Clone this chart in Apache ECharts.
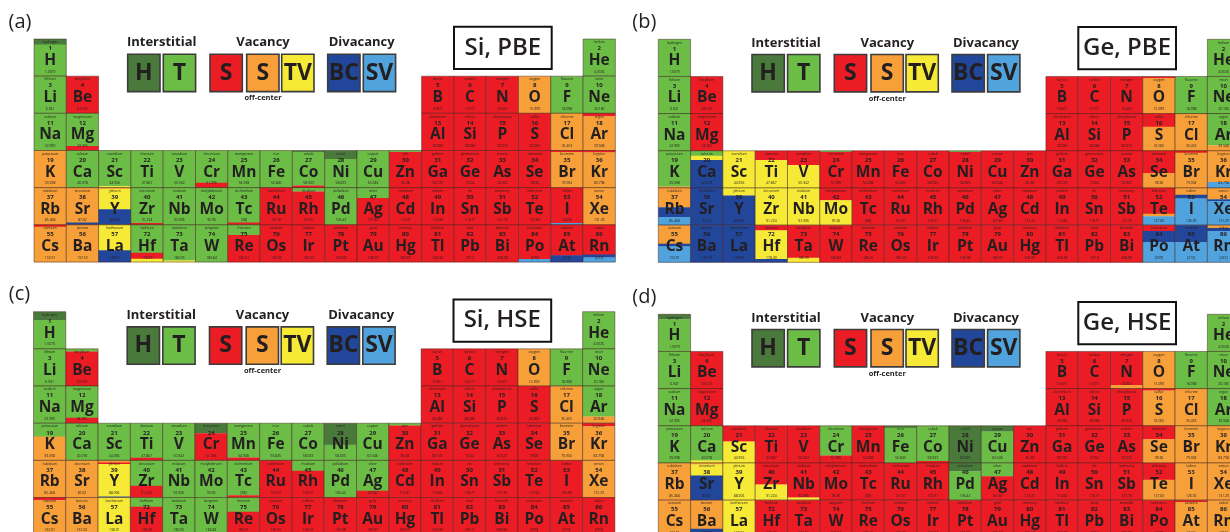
<!DOCTYPE html>
<html>
<head>
<meta charset="utf-8">
<script src="https://cdn.jsdelivr.net/npm/echarts@6/dist/echarts.min.js"></script>
<style>
  html, body { margin: 0; padding: 0; background: #ffffff; }
  #chart { width: 1230px; height: 532px; }
</style>
</head>
<body>
<div id="chart"></div>
<script>
// ---- Periodic table data (periods 1-6, lanthanum placed in group 3) ----
const elementSymbols = [
  'H','He',
  'Li','Be','B','C','N','O','F','Ne',
  'Na','Mg','Al','Si','P','S','Cl','Ar',
  'K','Ca','Sc','Ti','V','Cr','Mn','Fe','Co','Ni','Cu','Zn','Ga','Ge','As','Se','Br','Kr',
  'Rb','Sr','Y','Zr','Nb','Mo','Tc','Ru','Rh','Pd','Ag','Cd','In','Sn','Sb','Te','I','Xe',
  'Cs','Ba','La','Hf','Ta','W','Re','Os','Ir','Pt','Au','Hg','Tl','Pb','Bi','Po','At','Rn'
];
const elementNames = [
  'hydrogen','helium',
  'lithium','beryllium','boron','carbon','nitrogen','oxygen','fluorine','neon',
  'sodium','magnesium','aluminium','silicon','phosphorus','sulfur','chlorine','argon',
  'potassium','calcium','scandium','titanium','vanadium','chromium','manganese','iron','cobalt','nickel','copper','zinc','gallium','germanium','arsenic','selenium','bromine','krypton',
  'rubidium','strontium','yttrium','zirconium','niobium','molybdenum','technetium','ruthenium','rhodium','palladium','silver','cadmium','indium','tin','antimony','tellurium','iodine','xenon',
  'caesium','barium','lanthanum','hafnium','tantalum','tungsten','rhenium','osmium','iridium','platinum','gold','mercury','thallium','lead','bismuth','polonium','astatine','radon'
];
const atomicNumbers = [
  1,2,
  3,4,5,6,7,8,9,10,
  11,12,13,14,15,16,17,18,
  19,20,21,22,23,24,25,26,27,28,29,30,31,32,33,34,35,36,
  37,38,39,40,41,42,43,44,45,46,47,48,49,50,51,52,53,54,
  55,56,57,72,73,74,75,76,77,78,79,80,81,82,83,84,85,86
];
const atomicMasses = [
  '1.0079','4.0026',
  '6.941','9.0122','10.811','12.011','14.007','15.999','18.998','20.180',
  '22.990','24.305','26.982','28.086','30.974','32.065','35.453','39.948',
  '39.098','40.078','44.956','47.867','50.942','51.996','54.938','55.845','58.933','58.693','63.546','65.38','69.723','72.64','74.922','78.96','79.904','83.798',
  '85.468','87.62','88.906','91.224','92.906','95.96','[98]','101.07','102.91','106.42','107.87','112.41','114.82','118.71','121.76','127.60','126.90','131.29',
  '132.91','137.33','138.91','178.49','180.95','183.84','186.21','190.23','192.22','195.08','196.97','200.59','204.38','207.2','208.98','[209]','[210]','[222]'
];
const groupOf = [
  1,18,
  1,2,13,14,15,16,17,18,
  1,2,13,14,15,16,17,18,
  1,2,3,4,5,6,7,8,9,10,11,12,13,14,15,16,17,18,
  1,2,3,4,5,6,7,8,9,10,11,12,13,14,15,16,17,18,
  1,2,3,4,5,6,7,8,9,10,11,12,13,14,15,16,17,18
];
const periodOf = [
  1,1,
  2,2,2,2,2,2,2,2,
  3,3,3,3,3,3,3,3,
  4,4,4,4,4,4,4,4,4,4,4,4,4,4,4,4,4,4,
  5,5,5,5,5,5,5,5,5,5,5,5,5,5,5,5,5,5,
  6,6,6,6,6,6,6,6,6,6,6,6,6,6,6,6,6,6
];
const groupLabels = ['1','2','3','4','5','6','7','8','9','10','11','12','13','14','15','16','17','18'];
const periodLabels = ['1','2','3','4','5','6'];

// ---- Defect configurations per element, top-to-bottom bands "CODE percent" ----
// H: hexagonal interstitial, T: tetrahedral interstitial, S: substitutional,
// O: off-center substitutional, TV: tetravacancy, BC: bond-centered divacancy, SV: split vacancy
const defectsSiPBE = [
  'H15 T85','T',
  'T','S','S','S','S','O','T','T',
  'T','T88 S12','S','S','S','S','O','S8 O92',
  'O','T','T96 TV4','T','T','T87 S13','T','T','H4 T90 S6','H23 T77','T','T4 S96','S','S','S','S','S4 O96','S5 O95',
  'O','O94 BC6','O3 TV55 BC42','T95 S5','T','T','T94 S6','S','T10 S90','T','T28 S72','S','S','S','S','S','S95 SV5','O',
  'S5 O95','O','TV68 BC32','T75 S16 TV9','T96 TV4','T','T27 S73','S','S','S','S','S','S','S','S','S92 SV8','S82 BC18','S80 BC8 SV12'
];
const defectsGePBE = [
  'T','T',
  'T','S','S','S','S','S4 O96','T','T',
  'T','S','S','S','S','S35 O65','O','T85 O15',
  'T96 O4','T13 TV12 BC75','TV','S25 TV75','S38 TV62','T3 S97','S','S','S','T3 S97','S','S','S','S','S','S60 O40','S5 O95','O84 SV16',
  'O52 BC26 SV22','BC','TV20 BC80','TV','TV','S33 TV67','S','S','S','S','S','S','S','S','S','S69 O7 SV24','O18 BC10 SV72','O30 BC5 SV65',
  'O50 BC7 SV43','BC','BC','S14 TV77 BC9','S88 TV12','S','S','S','S','S','S','S','S','S','S','S16 BC29 SV55','BC45 SV55','O8 BC8 SV84'
];
const defectsSiHSE = [
  'H22 T78','T',
  'T','T7 S93','S','S','S','O','T','T',
  'T','T85 S15','S','S','S','S','O','T82 O18',
  'T36 O64','T','T','T93 S7','T','H27 S73','T92 S8','T','T','H58 T42','T','T6 S94','S','S','S','S','O','S8 O92',
  'O','O','O6 S4 TV87 BC3','T68 S32','T','T','T94 S6','S','T28 S72','T','T82 S18','S','S','S','S','S','S','O',
  'S7 O93','O','TV','T25 S75','T','T','T38 S62','S','S','S','S','S','S','S','S','S','S','S'
];
const defectsGeHSE = [
  'H13 T87','T',
  'T','S','S','S','S90 O10','O','T','T',
  'T','S','S','S','S','S5 O95','O','T',
  'T','T93 TV7','S42 TV58','S','S','T80 S20','S','H5 T95','T95 S5','H','H15 T85','S','S','S','S','S36 O64','O','O',
  'O','O4 TV30 BC66','TV','S58 TV42','S93 TV7','S','S','S','S','H22 T78','T36 S64','S','S','S','S','S45 O55','O','O',
  'O','O77 BC23','TV','S','S','S','S','S','S','S','S','S','S','S','S','S','S5 O95','O'
];

const panelTitles = ['Si, PBE', 'Ge, PBE', 'Si, HSE', 'Ge, HSE'];
const panelLetters = ['(a)', '(b)', '(c)', '(d)'];
const panelDefects = [defectsSiPBE, defectsGePBE, defectsSiHSE, defectsGeHSE];

// Legend groups and their swatches
const legendGroups = ['Interstitial', 'Vacancy', 'Divacancy'];
const legendCodes = ['H', 'T', 'S', 'O', 'TV', 'BC', 'SV'];
const legendLetters = ['H', 'T', 'S', 'S', 'TV', 'BC', 'SV'];

// ---- Styling ----
const COLORS = {
  H: '#497a3b', T: '#6bbd46', S: '#ec1c24', O: '#f7a03a',
  TV: '#f7ea36', BC: '#22469a', SV: '#50a3dc'
};
const INK = '#231f20';
const FONT = "'Open Sans', 'Noto Sans', sans-serif";

// Table origin of each panel (top-left of the hydrogen cell) and cell size
const CELL_W = 32.3, CELL_H = 37.17;
const panelOrigins = [[34, 39], [658.3, 39.3], [33.5, 311.7], [658.3, 314.3]];

function parseBands(str) {
  const bands = str.trim().split(/\s+/).map(tok => {
    const m = tok.match(/^([A-Z]+)(\d*)$/);
    return { code: m[1], pct: m[2] ? +m[2] : 100 };
  });
  const total = bands.reduce((a, b) => a + b.pct, 0);
  return bands.map(b => ({ code: b.code, frac: b.pct / total }));
}

function makeRenderItem(defects) {
  return function (params, api) {
    const idx = api.value(2);
    const c = api.coord([api.value(0), api.value(1)]);
    const s = api.size([1, 1]);
    const w = s[0], h = s[1];
    const x0 = c[0] - w / 2, y0 = c[1] - h / 2;
    const children = [];
    let y = y0;
    parseBands(defects[idx]).forEach(b => {
      const bh = h * b.frac;
      children.push({ type: 'rect', shape: { x: x0, y: y, width: w, height: bh + 0.3 },
        style: { fill: COLORS[b.code] } });
      y += bh;
    });
    children.push({ type: 'rect', shape: { x: x0, y: y0, width: w, height: h },
      style: { fill: 'none', stroke: 'rgba(70,35,35,0.6)', lineWidth: 0.8 } });
    const txt = (text, ty, size, weight) => ({
      type: 'text',
      style: { text: text, x: c[0], y: y0 + ty * h / 37.17, align: 'center', verticalAlign: 'middle',
        fontSize: size, fontWeight: weight, fontFamily: FONT, fill: INK }
    });
    children.push(txt(elementNames[idx], 3.3, 3.4, 'normal'));
    children.push(txt(String(atomicNumbers[idx]), 9.6, 6, 'bold'));
    children.push(txt(elementSymbols[idx], 21.6, 15.5, 'bold'));
    children.push(txt(atomicMasses[idx], 32.7, 3.4, 'normal'));
    return { type: 'group', children: children };
  };
}

function panelDecor(p) {
  const ox = panelOrigins[p][0], oy = panelOrigins[p][1];
  const els = [];
  const text = (t, x, y, size, weight) => ({
    type: 'text', x: x, y: y, z: 10,
    style: { text: t, align: 'center', verticalAlign: 'middle', textAlign: 'center', textVerticalAlign: 'middle',
      fontSize: size, fontWeight: weight, fontFamily: FONT, fill: INK }
  });
  els.push(text(panelLetters[p], ox - 14, oy - 17, 20, 'normal'));
  // legend group headings
  const headX = [127.7, 229, 327.7];
  legendGroups.forEach((g, i) => els.push(text(g, ox + headX[i], oy + 3.5, 13, 'bold')));
  els.push(text('off-center', ox + 229, oy + 59.3, 7.5, 'bold'));
  // legend swatches
  const boxX = [93.7, 129.3, 176, 212.7, 247.7, 293.7, 329.3];
  legendCodes.forEach((code, i) => {
    els.push({ type: 'rect', z: 9, shape: { x: ox + boxX[i], y: oy + 15.2, width: 32.3, height: 37.4 },
      style: { fill: COLORS[code], stroke: '#3c3c3c', lineWidth: 1.6 } });
    els.push(text(legendLetters[i], ox + boxX[i] + 16.15, oy + 34, 23, 'bold'));
  });
  // panel title box
  els.push({ type: 'rect', z: 9, shape: { x: ox + 420, y: oy - 12.3, width: 97.7, height: 42.3 },
    style: { fill: '#ffffff', stroke: '#111111', lineWidth: 2 } });
  els.push(text(panelTitles[p], ox + 468.8, oy + 8.8, 24, 600));
  return els;
}

const grids = [], xAxes = [], yAxes = [], series = [];
let graphics = [];
panelOrigins.forEach((o, p) => {
  grids.push({ left: o[0], top: o[1], width: CELL_W * 18, height: CELL_H * 6,
    containLabel: false, outerBoundsMode: 'none' });
  xAxes.push({ type: 'category', gridIndex: p, data: groupLabels, show: false });
  yAxes.push({ type: 'category', gridIndex: p, data: periodLabels, inverse: true, show: false });
  series.push({
    type: 'custom', xAxisIndex: p, yAxisIndex: p, clip: false,
    renderItem: makeRenderItem(panelDefects[p]),
    data: elementSymbols.map((_, i) => [groupOf[i] - 1, periodOf[i] - 1, i])
  });
  graphics = graphics.concat(panelDecor(p));
});

const chart = echarts.init(document.getElementById('chart'), null, { renderer: 'canvas' });
chart.setOption({
  animation: false,
  backgroundColor: '#ffffff',
  grid: grids, xAxis: xAxes, yAxis: yAxes, series: series,
  graphic: graphics
});
</script>
</body>
</html>
